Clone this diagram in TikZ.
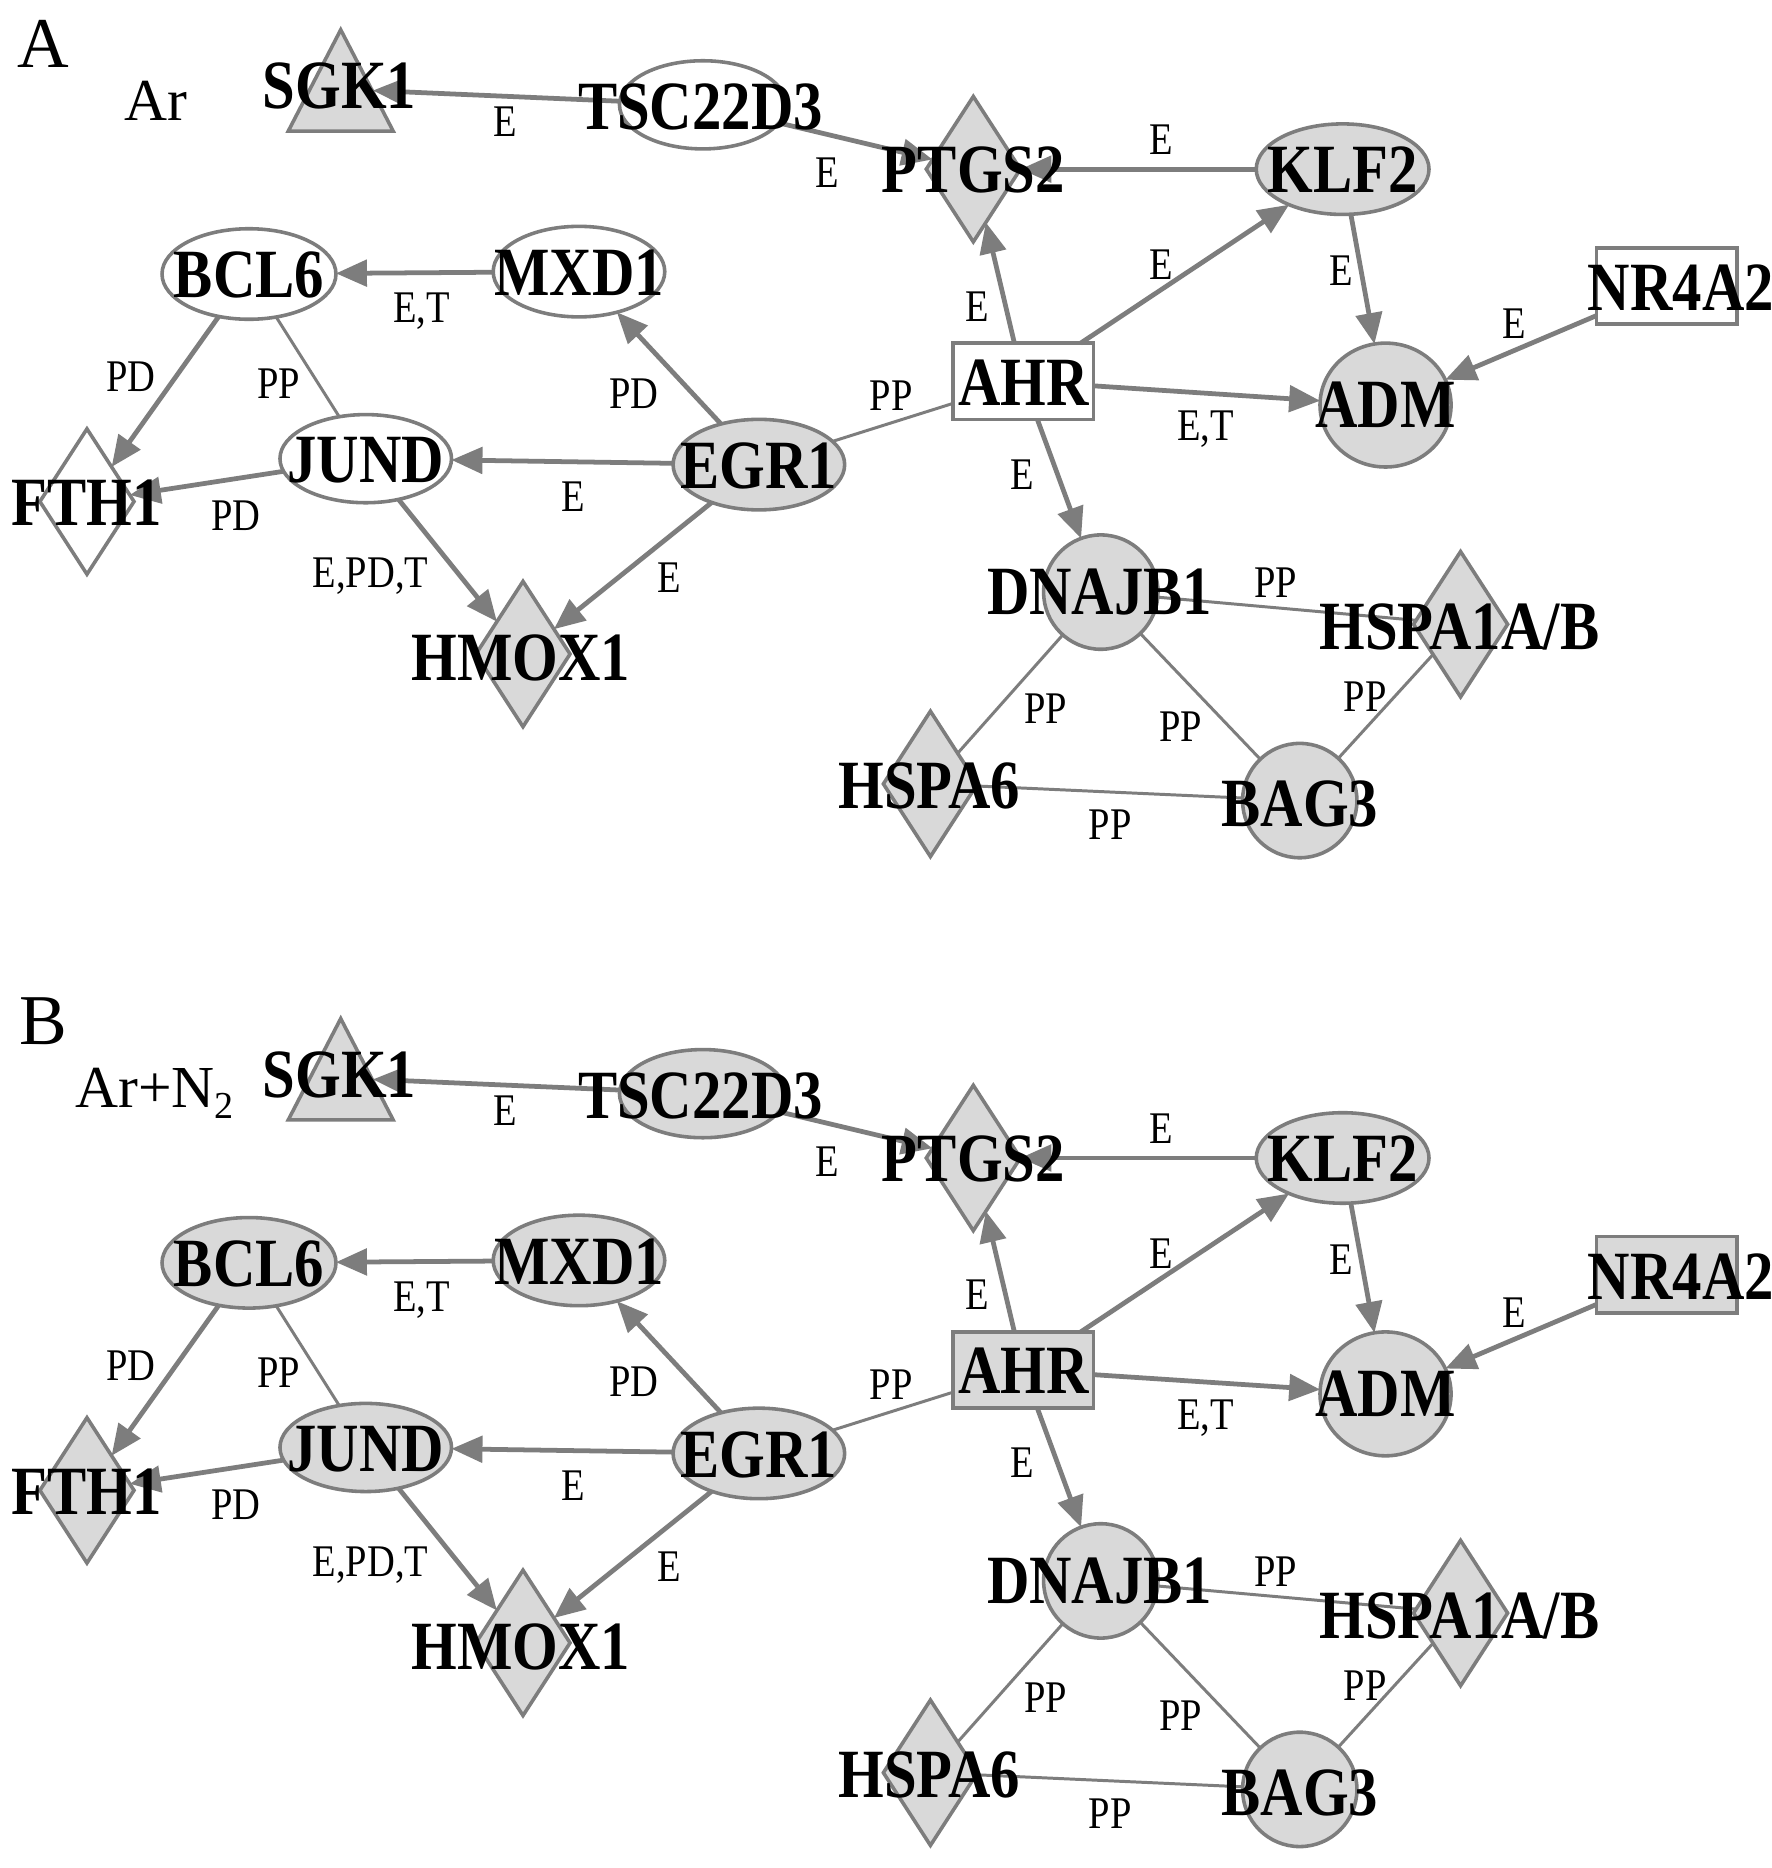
\documentclass[tikz,border=0pt]{standalone}
\usepackage{fontspec}
\setmainfont{Liberation Serif}
\newfontfamily\nfont[FakeStretch=0.85]{Liberation Serif}
\usetikzlibrary{shapes.geometric,arrows.meta}
\definecolor{ngray}{RGB}{217,217,217}
\definecolor{lgray}{RGB}{125,125,125}
\tikzset{
  shp/.style={draw=lgray, line width=3pt, inner sep=0pt, outer sep=0pt},
  ell/.style={shp, ellipse},
  dia/.style={shp, diamond, minimum width=79pt, minimum height=122pt},
  box/.style={shp, rectangle, minimum width=118pt, minimum height=64pt},
  gname/.style={font=\nfont\bfseries\fontsize{58}{58}\selectfont, inner sep=0pt, text height=38pt, text depth=0pt},
  elab/.style={font=\nfont\fontsize{38}{38}\selectfont, inner sep=0pt, text height=25pt, text depth=0pt},
  arr/.style={draw=lgray, line width=4pt, -{Triangle[length=26pt,width=22pt]}},
  pp/.style={draw=lgray, line width=2.5pt},
  plab/.style={font=\fontsize{60}{60}\selectfont, inner sep=0pt, text height=40pt, text depth=0pt},
  plab2/.style={font=\fontsize{50}{50}\selectfont, inner sep=0pt, text height=33pt, text depth=0pt, anchor=west}
}
\newcommand\drawpanel[3]{%
\begin{scope}[shift={(0,#3)}]
  % shapes
  \draw[shp, fill=ngray, line join=miter] (286,25) -- (330,110) -- (242,110) -- cycle;
  \coordinate (sgk#1) at (313,76);
  \node[ell, fill=#2, minimum width=140pt, minimum height=74pt] (tsc#1) at (590,88) {};
  \node[dia, fill=ngray] (ptg#1) at (817,142) {};
  \node[ell, fill=ngray, minimum width=145pt, minimum height=76pt] (klf#1) at (1127,142) {};
  \node[ell, fill=#2, minimum width=146pt, minimum height=76pt] (bcl#1) at (209,230) {};
  \node[ell, fill=#2, minimum width=144pt, minimum height=76pt] (mxd#1) at (486,228) {};
  \node[box, fill=#2] (nr4#1) at (1399,240) {};
  \node[box, fill=#2] (ahr#1) at (859,320) {};
  \node[ell, fill=ngray, minimum width=110pt, minimum height=104pt] (adm#1) at (1163,340) {};
  \node[ell, fill=#2, minimum width=144pt, minimum height=74pt] (jun#1) at (307,385) {};
  \node[ell, fill=ngray, minimum width=144pt, minimum height=76pt] (egr#1) at (637,390) {};
  \node[dia, fill=#2] (fth#1) at (73,421) {};
  \node[dia, fill=ngray] (hmo#1) at (439,549) {};
  \node[ell, fill=ngray, minimum width=96pt, minimum height=96pt] (dna#1) at (924,497) {};
  \node[dia, fill=ngray] (hsa#1) at (1226,524) {};
  \node[dia, fill=ngray] (hs6#1) at (781,658) {};
  \node[ell, fill=ngray, minimum width=96pt, minimum height=96pt] (bag#1) at (1091,672) {};
  % edges
  \draw[arr] (tsc#1) -- (sgk#1);
  \draw[arr] (tsc#1) -- (ptg#1);
  \draw[arr] (klf#1) -- (ptg#1);
  \draw[arr] (ahr#1) -- (ptg#1);
  \draw[arr] (ahr#1) -- (klf#1);
  \draw[arr] (klf#1) -- (adm#1);
  \draw[arr] (nr4#1) -- (adm#1);
  \draw[arr] (ahr#1) -- (adm#1);
  \draw[arr] (ahr#1) -- (dna#1);
  \draw[pp] (egr#1) -- (ahr#1);
  \draw[arr] (mxd#1) -- (bcl#1);
  \draw[arr] (egr#1) -- (mxd#1);
  \draw[arr] (bcl#1) -- (fth#1);
  \draw[pp] (bcl#1) -- (jun#1);
  \draw[arr] (jun#1) -- (fth#1);
  \draw[arr] (egr#1) -- (jun#1);
  \draw[arr] (jun#1) -- (hmo#1);
  \draw[arr] (egr#1) -- (hmo#1);
  \draw[pp] (dna#1) -- (hsa#1);
  \draw[pp] (dna#1) -- (hs6#1);
  \draw[pp] (dna#1) -- (bag#1);
  \draw[pp] (bag#1) -- (hsa#1);
  \draw[pp] (hs6#1) -- (bag#1);
  % edge labels
  \node[elab] (e1#1) at (424,102) {E};
  \node[elab] (e2#1) at (694,145) {E};
  \node[elab] (e3#1) at (975,117) {E};
  \node[elab] (e4#1) at (820,257) {E};
  \node[elab] (e5#1) at (975,222) {E};
  \node[elab] (e6#1) at (1126,227) {E};
  \node[elab] (e7#1) at (1271,272) {E};
  \node[elab] (e8#1) at (1012,357) {E,T};
  \node[elab] (e9#1) at (858,398) {E};
  \node[elab] (e10#1) at (748,332) {PP};
  \node[elab] (e11#1) at (354,258) {E,T};
  \node[elab] (e12#1) at (532,330) {PD};
  \node[elab] (e13#1) at (110,316) {PD};
  \node[elab] (e14#1) at (234,322) {PP};
  \node[elab] (e15#1) at (198,433) {PD};
  \node[elab] (e16#1) at (481,417) {E};
  \node[elab] (e17#1) at (311,481) {E,PD,T};
  \node[elab] (e18#1) at (562,485) {E};
  \node[elab] (e19#1) at (1071,489) {PP};
  \node[elab] (e20#1) at (878,595) {PP};
  \node[elab] (e21#1) at (991,610) {PP};
  \node[elab] (e22#1) at (1146,585) {PP};
  \node[elab] (e23#1) at (932,692) {PP};
  % gene names
  \node[gname] (t-sgk#1) at (285,72) {SGK1};
  \node[gname] (t-tsc#1) at (588,90) {TSC22D3};
  \node[gname] (t-ptg#1) at (817,143) {PTGS2};
  \node[gname] (t-klf#1) at (1127,143) {KLF2};
  \node[gname] (t-bcl#1) at (209,231) {BCL6};
  \node[gname] (t-mxd#1) at (486,229) {MXD1};
  \node[gname] (t-nr4#1) at (1411,242) {NR4A2};
  \node[gname] (t-ahr#1) at (859,321) {AHR};
  \node[gname] (t-adm#1) at (1163,340) {ADM};
  \node[gname] (t-jun#1) at (307,386) {JUND};
  \node[gname] (t-egr#1) at (637,391) {EGR1};
  \node[gname] (t-fth#1) at (73,422) {FTH1};
  \node[gname] (t-hmo#1) at (437,552) {HMOX1};
  \node[gname] (t-dna#1) at (923,497) {DNAJB1};
  \node[gname] (t-hsa#1) at (1225,526) {HSPA1A/B};
  \node[gname] (t-hs6#1) at (780,660) {HSPA6};
  \node[gname] (t-bag#1) at (1091,675) {BAG3};
\end{scope}}
\begin{document}
\begin{tikzpicture}[x=1pt,y=-1pt]
\useasboundingbox[fill=white] (0,0) rectangle (1487,1568);
\drawpanel{a}{white}{0}
\drawpanel{b}{ngray}{830}
\node[plab] (labA) at (36,37) {A};
\node[plab2] (arA) at (104,85) {Ar};
\node[plab] (labB) at (36,857) {B};
\node[plab2] (arB) at (63,913) {Ar+N\raisebox{-9pt}{\fontsize{32}{32}\selectfont 2}};
\end{tikzpicture}
\end{document}
